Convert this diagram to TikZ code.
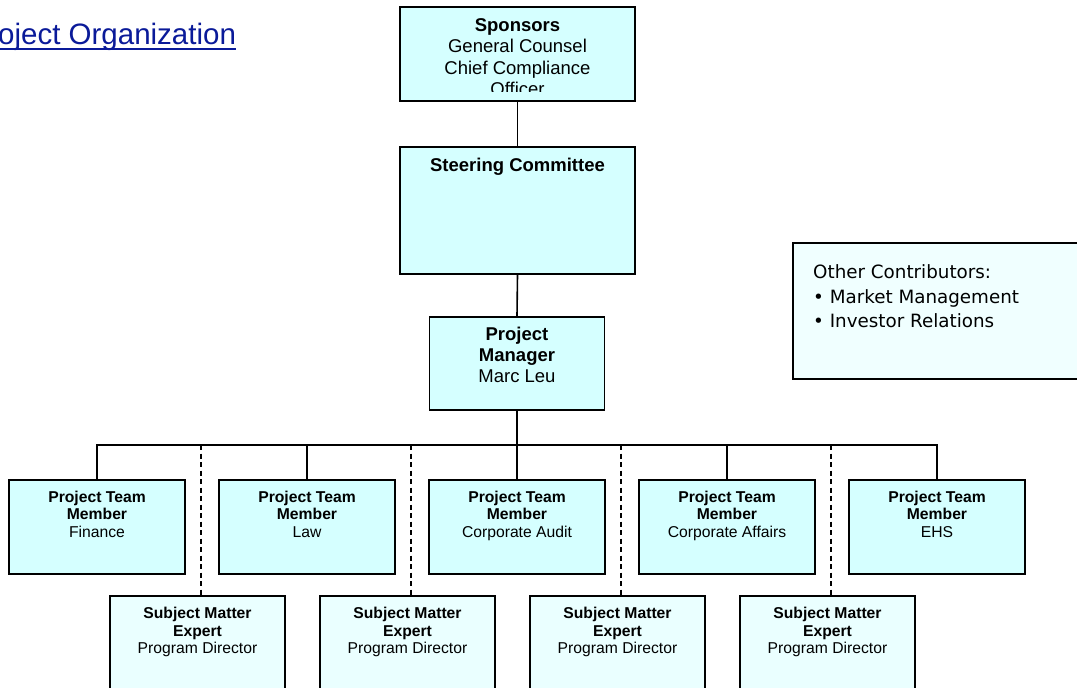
\documentclass[tikz,border=0pt]{standalone}
\usepackage{fontspec}
\setmainfont{Liberation Sans}
\newfontfamily\contribfont{DejaVu Sans}

\definecolor{boxcyan}{RGB}{213,255,255}
\definecolor{smecyan}{RGB}{234,255,255}
\definecolor{notecyan}{RGB}{240,255,255}
\definecolor{linkblue}{RGB}{10,26,153}

\newcommand{\bigtext}{\fontsize{18.5}{21.6}\selectfont}
\newcommand{\pmtext}{\fontsize{18.5}{20.8}\selectfont}
\newcommand{\smalltext}{\fontsize{15.7}{17.5}\selectfont}

\begin{document}
\begin{tikzpicture}[x=1pt, y=-1pt,
        box/.style = {draw, line width=1.7pt, fill=boxcyan, inner sep=0pt},
        wide box/.style = {box, minimum width=235pt},
        team box/.style = {box, minimum width=176pt, minimum height=94pt},
        sme box/.style = {box, fill=smecyan, minimum width=175pt, minimum height=110pt},
        box text/.style = {anchor=base, align=center, inner sep=0pt},
        link/.style = {line width=1.6pt},
        dash link/.style = {line width=1.6pt, dash pattern=on 5pt off 3.5pt}]
        \clip (0,0) rectangle (1077,688);

        \node[anchor=base west, inner sep=0pt, text=linkblue, font=\fontsize{29.5}{34}\selectfont] (title) at (-2,45) {oject Organization};
        \draw[linkblue, line width=2pt] ([yshift=-4.3pt]title.base west) -- ([yshift=-4.3pt]title.base east);

        \node[wide box, minimum height=94pt] (spon) at (517.5,54) {};
        \begin{scope}
            \clip (400,8) rectangle (635,91);
            \node[box text, font=\bigtext] (spon-t) at ([yshift=-89.8pt]spon.north) {\textbf{Sponsors}\\General Counsel\\Chief Compliance\\Officer};
        \end{scope}

        \node[wide box, minimum height=127pt] (steer) at (517.5,210.5) {};
        \node[box text, font=\bigtext] (steer-t) at ([yshift=-25pt]steer.north) {\textbf{Steering Committee}};

        \node[box, minimum width=175pt, minimum height=93.5pt] (pm) at (517,363.5) {};
        \node[box text, font=\pmtext] (pm-t) at ([yshift=-66.6pt]pm.north) {\textbf{Project}\\\textbf{Manager}\\Marc Leu};

        \node[box, fill=notecyan, minimum width=306pt, minimum height=136pt] (other) at (946,311) {};
        \node[anchor=base west, align=left, inner sep=0pt, font=\contribfont\fontsize{18.3}{24.8}\selectfont] (other-t) at (813,327.9) {Other Contributors:\\\textbullet\ Market Management\\\textbullet\ Investor Relations};

        \node[team box] (fin) at (97,527) {};
        \node[team box] (law) at (307,527) {};
        \node[team box] (audit) at (517,527) {};
        \node[team box] (affairs) at (727,527) {};
        \node[team box] (ehs) at (937,527) {};
        \node[box text, font=\smalltext] (fin-t) at ([yshift=-58.3pt]fin.north) {\textbf{Project Team}\\\textbf{Member}\\Finance};
        \node[box text, font=\smalltext] (law-t) at ([yshift=-58.3pt]law.north) {\textbf{Project Team}\\\textbf{Member}\\Law};
        \node[box text, font=\smalltext] (audit-t) at ([yshift=-58.3pt]audit.north) {\textbf{Project Team}\\\textbf{Member}\\Corporate Audit};
        \node[box text, font=\smalltext] (affairs-t) at ([yshift=-58.3pt]affairs.north) {\textbf{Project Team}\\\textbf{Member}\\Corporate Affairs};
        \node[box text, font=\smalltext] (ehs-t) at ([yshift=-58.3pt]ehs.north) {\textbf{Project Team}\\\textbf{Member}\\EHS};

        \node[sme box] (sme1) at (197.5,651) {};
        \node[sme box] (sme2) at (407.5,651) {};
        \node[sme box] (sme3) at (617.5,651) {};
        \node[sme box] (sme4) at (827.5,651) {};
        \node[box text, font=\smalltext] (sme1-t) at ([yshift=-58.6pt]sme1.north) {\textbf{Subject Matter}\\\textbf{Expert}\\Program Director};
        \node[box text, font=\smalltext] (sme2-t) at ([yshift=-58.6pt]sme2.north) {\textbf{Subject Matter}\\\textbf{Expert}\\Program Director};
        \node[box text, font=\smalltext] (sme3-t) at ([yshift=-58.6pt]sme3.north) {\textbf{Subject Matter}\\\textbf{Expert}\\Program Director};
        \node[box text, font=\smalltext] (sme4-t) at ([yshift=-58.6pt]sme4.north) {\textbf{Subject Matter}\\\textbf{Expert}\\Program Director};

        \draw[link] (spon.south) -- (steer.north);
        \draw[link] (steer.south) -- (pm.north);
        \coordinate (bus) at (517,445);
        \draw[link] (pm.south) -- (bus);
        \draw[link] (fin.north) |- (bus) -| (ehs.north);
        \draw[link] (law.north) -- (law.north |- bus);
        \draw[link] (audit.north) -- (bus);
        \draw[link] (affairs.north) -- (affairs.north |- bus);

        \coordinate (d1) at (201,445);
        \coordinate (d2) at (411,445);
        \coordinate (d3) at (621,445);
        \coordinate (d4) at (831,445);
        \draw[dash link] (d1) -- (d1 |- sme1.north);
        \draw[dash link] (d2) -- (d2 |- sme2.north);
        \draw[dash link] (d3) -- (d3 |- sme3.north);
        \draw[dash link] (d4) -- (d4 |- sme4.north);
    \end{tikzpicture}
\end{document}
